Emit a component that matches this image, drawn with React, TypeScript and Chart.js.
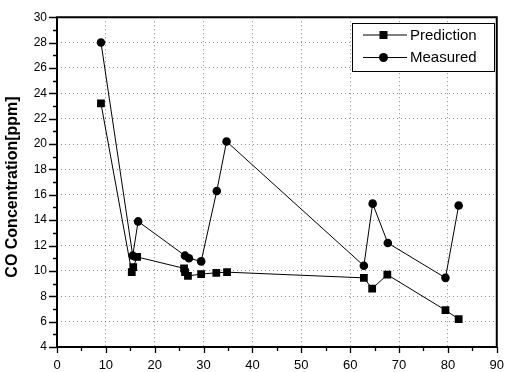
import React, { useEffect, useRef } from "react";
import { Chart, registerables } from "chart.js";

Chart.register(...registerables);

// Elapsed position (x) and CO concentration in ppm (y)
const predictionX = [9, 15.3, 15.6, 16.4, 26.0, 26.2, 26.8, 29.5, 32.6, 34.8, 62.8, 64.5, 67.6, 79.5, 82.2];
const predictionY = [23.2, 9.9, 10.3, 11.1, 10.2, 9.9, 9.6, 9.75, 9.85, 9.9, 9.45, 8.6, 9.7, 6.9, 6.2];
const measuredX = [9, 15.5, 16.6, 26.2, 27.0, 29.5, 32.7, 34.7, 62.8, 64.6, 67.7, 79.5, 82.2];
const measuredY = [28, 11.2, 13.9, 11.2, 11.0, 10.75, 16.3, 20.2, 10.4, 15.3, 12.2, 9.45, 15.15];

const seriesNames = ["Prediction", "Measured"];
const yTitle = "CO Concentration[ppm]";
const xRange = [0, 90];
const yRange = [4, 30];

const FONT = "'Liberation Sans', Arial, sans-serif";

const framePlugin = {
  id: "frameAndLegend",
  afterDraw(chart: any) {
    const { ctx, chartArea, scales } = chart;
    const { left, right, top, bottom } = chartArea;
    const xs = scales.x;
    const ys = scales.y;
    ctx.save();
    ctx.strokeStyle = "#000";

    // frame
    ctx.lineWidth = 2;
    ctx.beginPath();
    ctx.rect(left, top, right - left, bottom - top);
    ctx.stroke();

    // tick marks (major + minor)
    ctx.lineWidth = 1.3;
    ctx.beginPath();
    for (let v = yRange[0]; v <= yRange[1]; v += 1) {
      const py = Math.round(ys.getPixelForValue(v)) + 0.5;
      const len = v % 2 === 0 ? 8 : 4;
      ctx.moveTo(left - len, py);
      ctx.lineTo(left, py);
    }
    for (let v = xRange[0]; v <= xRange[1]; v += 5) {
      const px = Math.round(xs.getPixelForValue(v)) + 0.5;
      const len = v % 10 === 0 ? 6 : 4;
      ctx.moveTo(px, bottom);
      ctx.lineTo(px, bottom + len);
    }
    ctx.stroke();

    // y axis title
    ctx.save();
    ctx.translate(13, 187);
    ctx.rotate(-Math.PI / 2);
    ctx.font = `bold 16px ${FONT}`;
    ctx.fillStyle = "#000";
    ctx.textAlign = "center";
    ctx.textBaseline = "middle";
    ctx.fillText(yTitle, 0, 0);
    ctx.restore();

    // legend
    const bx = 352.5, by = 23.5, bw = 142, bh = 48;
    ctx.fillStyle = "#fff";
    ctx.fillRect(bx, by, bw, bh);
    ctx.lineWidth = 1;
    ctx.strokeRect(bx, by, bw, bh);
    const rows = [35, 57.5];
    rows.forEach((ry, i) => {
      ctx.beginPath();
      ctx.lineWidth = 1;
      ctx.moveTo(363, ry);
      ctx.lineTo(407, ry);
      ctx.stroke();
      ctx.fillStyle = "#000";
      if (i === 0) {
        ctx.fillRect(379.5, ry - 4, 8, 8);
      } else {
        ctx.beginPath();
        ctx.arc(383.5, ry, 4.5, 0, Math.PI * 2);
        ctx.fill();
      }
      ctx.font = `15px ${FONT}`;
      ctx.textAlign = "left";
      ctx.textBaseline = "middle";
      ctx.fillText(seriesNames[i], 410, ry + 0.5);
    });
    ctx.restore();
  },
};

// light dotted grid, hidden at the frame edges
const gridColor = (range: number[]) => (c: any) =>
  c.tick && (c.tick.value === range[0] || c.tick.value === range[1])
    ? "rgba(0,0,0,0)"
    : "rgba(0,0,0,0.45)";

export default function App() {
  const ref = useRef<HTMLCanvasElement>(null);

  useEffect(() => {
    document.body.style.margin = "0";
    const canvas = ref.current;
    if (!canvas) return;
    const chart = new Chart(canvas, {
      type: "line",
      data: {
        datasets: [
          {
            label: seriesNames[0],
            data: predictionX.map((x, i) => ({ x, y: predictionY[i] })),
            borderColor: "#000",
            backgroundColor: "#000",
            borderWidth: 1,
            pointStyle: "rect",
            pointRadius: 5.5,
            pointBorderWidth: 0,
            tension: 0,
          },
          {
            label: seriesNames[1],
            data: measuredX.map((x, i) => ({ x, y: measuredY[i] })),
            borderColor: "#000",
            backgroundColor: "#000",
            borderWidth: 1,
            pointStyle: "circle",
            pointRadius: 4.3,
            pointBorderWidth: 0,
            tension: 0,
          },
        ],
      },
      options: {
        responsive: false,
        animation: false,
        devicePixelRatio: 1,
        layout: { padding: { top: 12, right: 8, left: 0, bottom: 0 } },
        plugins: { legend: { display: false }, tooltip: { enabled: false } },
        scales: {
          x: {
            type: "linear",
            min: xRange[0],
            max: xRange[1],
            afterFit: (s: any) => {
              s.height = 25;
            },
            border: { display: false, dash: [1, 3] },
            grid: {
              drawTicks: false,
              color: gridColor(xRange),
              lineWidth: 1,
            },
            ticks: {
              stepSize: 10,
              padding: 11,
              color: "#000",
              font: { family: FONT, size: 13 },
              maxRotation: 0,
            },
          },
          y: {
            type: "linear",
            min: yRange[0],
            max: yRange[1],
            afterFit: (s: any) => {
              s.width = 57;
            },
            border: { display: false, dash: [1, 3] },
            grid: {
              drawTicks: false,
              color: gridColor(yRange),
              lineWidth: 1,
            },
            ticks: {
              stepSize: 2,
              padding: 10,
              color: "#000",
              font: { family: FONT, size: 12 },
            },
          },
        },
      } as any,
      plugins: [framePlugin],
    });
    return () => chart.destroy();
  }, []);

  return (
    <canvas
      ref={ref}
      width={515}
      height={372}
      style={{ display: "block", width: 515, height: 372 }}
    />
  );
}
